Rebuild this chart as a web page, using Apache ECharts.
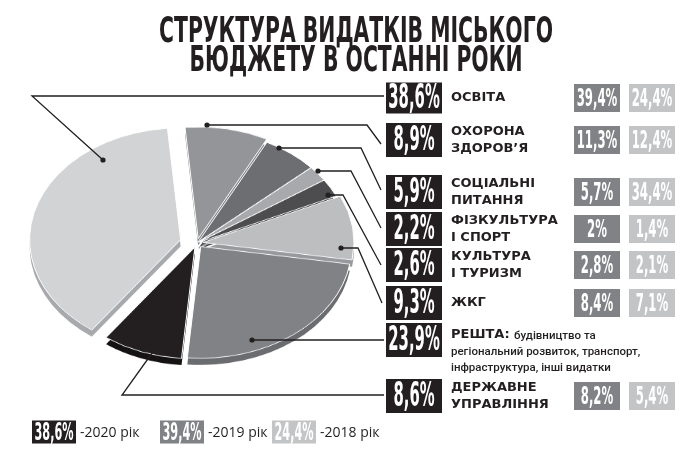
<!DOCTYPE html>
<html>
<head>
<meta charset="utf-8">
<script src="https://cdn.jsdelivr.net/npm/echarts@6/dist/echarts.min.js"></script>
<style>
  html, body { margin: 0; padding: 0; background: #fff; }
  #pie, #main { position: absolute; left: 0; top: 0; width: 692px; height: 460px; }
  /* the pie is drawn round and squashed to look tilted */
  #pie { transform: scaleY(0.74); transform-origin: 0 243px; }
</style>
</head>
<body>
<div id="pie"></div>
<div id="main"></div>
<script>
// дані: частка видатків, %
var categories = ['Освіта', 'Охорона здоров’я', 'Соціальні питання', 'Фізкультура і спорт',
                  'Культура і туризм', 'ЖКГ', 'Решта', 'Державне управління'];
var share2020 = [38.6, 8.9, 5.9, 2.2, 2.6, 9.3, 23.9, 8.6];
var share2019 = [39.4, 11.3, 5.7, 2, 2.8, 8.4, null, 8.2];
var share2018 = [24.4, 12.4, 34.4, 1.4, 2.1, 7.1, null, 5.4];
var rowLabels = [['ОСВІТА'], ['ОХОРОНА', 'ЗДОРОВ’Я'], ['СОЦІАЛЬНІ', 'ПИТАННЯ'], ['ФІЗКУЛЬТУРА', 'І СПОРТ'],
                 ['КУЛЬТУРА', 'І ТУРИЗМ'], ['ЖКГ'], ['РЕШТА:'], ['ДЕРЖАВНЕ', 'УПРАВЛІННЯ']];
var restNote = ['будівництво та', 'регіональний розвиток, транспорт,', 'інфраструктура, інші видатки'];
var legendYears = ['-2020 рік', '-2019 рік', '-2018 рік'];

// оформлення
var topColors  = ['#d1d3d4', '#939598', '#6d6e71', '#a7a9ac', '#4d4d4f', '#bcbec0', '#808285', '#231f20'];
var sideColors = ['#a7a9ac', '#7c7e81', '#58595b', '#8e9093', '#3a3a3c', '#97999c', '#6a6c6f', '#151213'];
var explodeGroup = [0, 1, 2, 2, 2, 1, 1, 1];   // which offset each slice uses
var explodeSize = [17, 6, 2];
var ink = '#231f20';
var condensed = '"DejaVu Sans Condensed", "Liberation Sans Narrow", sans-serif';

var cx = 197, cy = 243, r = 151, depth = 9;
var topAngle = 95;

function pct(v) { return String(v).replace('.', ',') + '%'; }

var pieChart = echarts.init(document.getElementById('pie'));
var pieSeries = [];
[true, false].forEach(function (isSide) {
  explodeSize.forEach(function (off, g) {
    pieSeries.push({
      type: 'pie',
      silent: true,
      animation: false,
      z: isSide ? 1 : 2,
      center: [cx, isSide ? cy + depth : cy],
      radius: [0, r],
      startAngle: topAngle + share2020[0] * 3.6,
      clockwise: true,
      selectedMode: 'multiple',
      selectedOffset: off,
      label: { show: false },
      labelLine: { show: false },
      emphasis: { disabled: true },
      data: categories.map(function (name, i) {
        var mine = explodeGroup[i] === g;
        return {
          name: name,
          value: share2020[i],
          selected: true,
          itemStyle: mine ? {
            color: isSide ? sideColors[i] : topColors[i],
            borderColor: '#fff',
            borderWidth: isSide ? 0 : 1
          } : { color: 'rgba(0,0,0,0)', borderWidth: 0 }
        };
      })
    });
  });
});
pieChart.setOption({ series: pieSeries });

// підписи, рамки, лінії-виноски
var rowY = [98, 140, 192, 229, 265, 303, 340, 396];
var leaders = [
  [[103, 160], [32, 96], [384, 96]],
  [[207, 125], [367, 125], [381, 144]],
  [[279, 148], [361, 148], [381, 190]],
  [[318, 171], [351, 171], [381, 228]],
  [[328, 195], [343, 195], [381, 265]],
  [[341, 248], [358, 248], [382, 303]],
  [[252, 340], [384, 340]],
  [[160, 342], [122, 395], [384, 395]]
];

function numBox(x, y, w, h, fill, text, size, sx) {
  return [
    { type: 'rect', shape: { x: x, y: y - h / 2, width: w, height: h }, style: { fill: fill } },
    { type: 'text', x: x + w / 2, y: y + 1, scaleX: sx,
      style: { text: text, font: 'bold ' + size + 'px ' + condensed, fill: '#fff', align: 'center', verticalAlign: 'middle' } }
  ];
}

var g = [];
['СТРУКТУРА ВИДАТКІВ МІСЬКОГО', 'БЮДЖЕТУ В ОСТАННІ РОКИ'].forEach(function (t, k) {
  g.push({ type: 'text', x: 356, y: 33 + k * 29, scaleX: 0.63,
    style: { text: t, font: 'bold 36px ' + condensed, fill: ink, align: 'center', verticalAlign: 'middle' } });
});

categories.forEach(function (name, i) {
  var y = rowY[i];
  var pts = leaders[i];
  g.push({ type: 'polyline', shape: { points: pts }, style: { stroke: ink, lineWidth: 1.3, fill: null } });
  g.push({ type: 'circle', shape: { cx: pts[0][0], cy: pts[0][1], r: 2.6 }, style: { fill: ink } });

  g = g.concat(numBox(386, y, 56, i === 0 ? 31 : 34, ink, pct(share2020[i]), 33, 0.5));
  if (share2019[i] !== null) {
    g = g.concat(numBox(574, y, 46, 28, '#808285', pct(share2019[i]), 25, 0.52));
    g = g.concat(numBox(629, y, 46, 28, '#c3c4c6', pct(share2018[i]), 25, 0.52));
  }
  var lines = rowLabels[i];
  if (name === 'Решта') {
    g.push({ type: 'text', x: 451, y: 335,
      style: { text: lines[0], font: 'bold 13px "DejaVu Sans", sans-serif', fill: ink, verticalAlign: 'middle' } });
    restNote.forEach(function (t, k) {
      g.push({ type: 'text', x: k === 0 ? 514 : 451, y: 336 + k * 16,
        style: { text: t, font: '500 11.5px Roboto, sans-serif', fill: ink, verticalAlign: 'middle' } });
    });
  } else {
    lines.forEach(function (t, k) {
      var ly = y + (k - (lines.length - 1) / 2) * 17;
      g.push({ type: 'text', x: 451, y: ly,
        style: { text: t, font: 'bold 13px "DejaVu Sans", sans-serif', fill: ink, verticalAlign: 'middle' } });
    });
  }
});

// легенда років
var legendX = [32, 160, 272];
var legendFill = [ink, '#808285', '#c3c4c6'];
var legendVal = [share2020[0], share2019[0], share2018[0]];
legendYears.forEach(function (t, k) {
  g = g.concat(numBox(legendX[k], 432, 44, 23, legendFill[k], pct(legendVal[k]), 25, 0.5));
  g.push({ type: 'text', x: legendX[k] + 48, y: 433,
    style: { text: t, font: '14px "Open Sans", sans-serif', fill: ink, verticalAlign: 'middle' } });
});

var chart = echarts.init(document.getElementById('main'));
chart.setOption({ graphic: { elements: g } });
</script>
</body>
</html>
